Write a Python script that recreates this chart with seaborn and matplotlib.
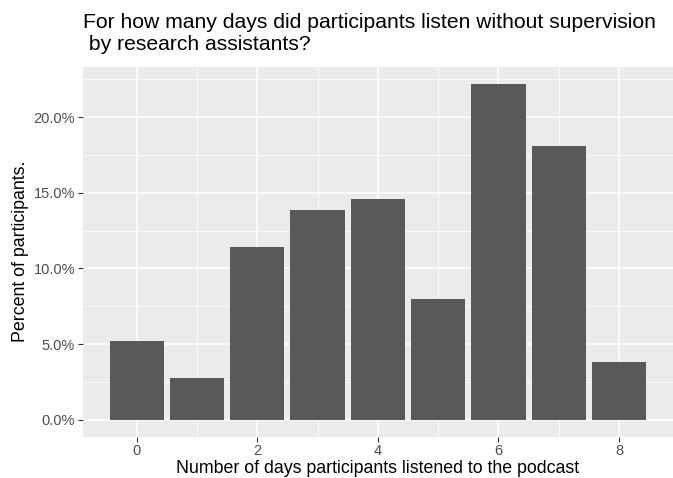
import numpy as np
import pandas as pd
import seaborn as sns
import matplotlib.pyplot as plt
from matplotlib.ticker import PercentFormatter, MultipleLocator

# data
days = [0, 1, 2, 3, 4, 5, 6, 7, 8]
percent = [5.2, 2.76, 11.43, 13.86, 14.58, 7.98, 22.2, 18.07, 3.81]

df = pd.DataFrame({'days': days, 'percent': percent})

sns.set_style('darkgrid', {
    'axes.facecolor': '#EBEBEB',
    'grid.color': 'white',
    'axes.edgecolor': '#EBEBEB',
})
plt.rcParams['font.family'] = ['Liberation Sans', 'DejaVu Sans']

fig = plt.figure(figsize=(6.73, 4.78), dpi=100)
ax = fig.add_axes([0.1229, 0.0868, 0.8771, 0.773])

sns.barplot(df, x='days', y='percent', native_scale=True, width=0.9,
            color='#595959', saturation=1, errorbar=None, ax=ax, zorder=3)
for p in ax.patches:
    p.set_edgecolor('none')

x_lo, x_hi = -0.45, 8.45
pad = (x_hi - x_lo) * 0.05
ax.set_xlim(x_lo - pad, x_hi + pad)
y_hi = max(percent)
ax.set_ylim(-y_hi * 0.05, y_hi * 1.05)

ax.xaxis.set_major_locator(MultipleLocator(2))
ax.xaxis.set_minor_locator(MultipleLocator(1))
ax.yaxis.set_major_locator(MultipleLocator(5))
ax.yaxis.set_minor_locator(MultipleLocator(2.5))
ax.yaxis.set_major_formatter(PercentFormatter(decimals=1))

ax.grid(which='major', color='white', linewidth=1.1, zorder=0)
ax.grid(which='minor', color='white', linewidth=0.55, zorder=0)
ax.set_axisbelow(True)
for s in ax.spines.values():
    s.set_visible(False)

ax.tick_params(axis='both', which='major', length=3.5, width=0.8, color='#333333',
               labelcolor='#4D4D4D', labelsize=10.5, pad=2, bottom=True, left=True)
ax.tick_params(axis='both', which='minor', length=0)

ax.set_xlabel('Number of days participants listened to the podcast', fontsize=12.8,
              color='black', labelpad=1)
ax.set_ylabel('Percent of participants.', fontsize=12.8, color='black', labelpad=3)

fig.text(0.1229, 0.972, 'For how many days did participants listen without supervision\n by research assistants?',
         fontsize=15.2, ha='left', va='top', color='black', linespacing=1.15)

fig.savefig('out.png', dpi=100)
